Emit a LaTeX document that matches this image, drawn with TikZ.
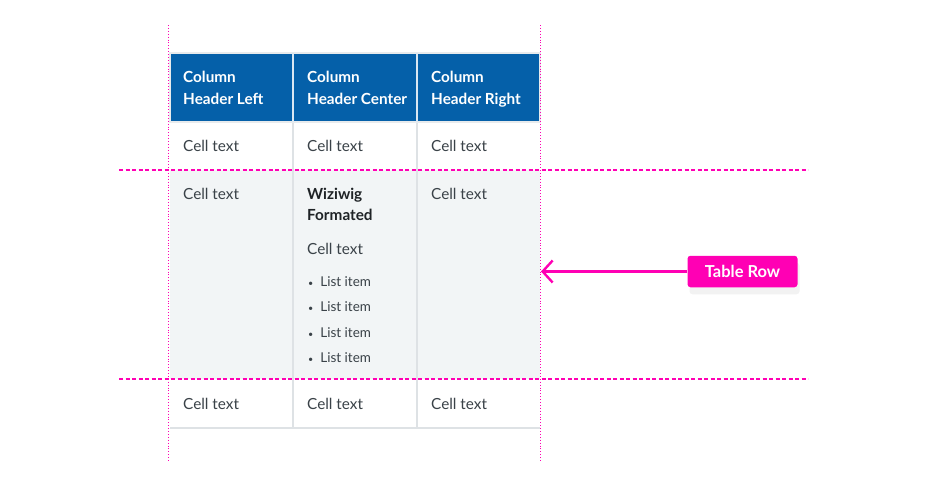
\documentclass[tikz,border=0pt]{standalone}
\usepackage{fontspec}
\setmainfont{Lato}
\usetikzlibrary{positioning,arrows.meta,shadows}
\definecolor{headblue}{HTML}{0560A9}
\definecolor{guidepink}{HTML}{FF00B4}
\definecolor{rowgrey}{HTML}{F2F5F6}
\definecolor{gridgrey}{HTML}{DEE2E5}
\definecolor{celltext}{HTML}{3A4248}
\definecolor{darktext}{HTML}{1F2326}
\tikzset{
  cell/.style={anchor=base west,inner sep=0pt,text=celltext,font=\fontsize{15.3}{18}\selectfont},
  head/.style={anchor=base west,inner sep=0pt,text=white,font=\bfseries\fontsize{15.3}{21.5}\selectfont,align=left},
  wysi/.style={anchor=base west,inner sep=0pt,text=darktext,font=\bfseries\fontsize{15.3}{21}\selectfont,align=left},
  item/.style={anchor=base west,inner sep=0pt,text=celltext,font=\fontsize{13.5}{16}\selectfont},
  guide/.style={guidepink,line width=0.9pt,dotted},
  rowline/.style={guidepink,line width=1.8pt,dash pattern=on 4pt off 2.5pt},
  grid/.style={gridgrey,line width=1.3pt},
  tag/.style={fill=guidepink,text=white,rounded corners=3pt,minimum width=110pt,minimum height=31.5pt,
    inner sep=0pt,font=\bfseries\fontsize{16.5}{18}\selectfont,
    drop shadow={opacity=0.10,shadow xshift=2pt,shadow yshift=-7pt}},
  pointer/.style={guidepink,line width=2.4pt,-{Straight Barb[length=10pt,width=22pt,line width=2.4pt]}}
}
\newcommand{\dotitem}{{\fontsize{9}{9}\selectfont\textbullet}\hspace{7pt}}
\begin{document}
\begin{tikzpicture}[x=1pt,y=-1pt]
  \useasboundingbox[fill=white] (0,0) rectangle (927,485);
  % Flaechen
  \fill[headblue] (170,53) rectangle (540,122);
  \fill[rowgrey] (170,170) rectangle (540,379);
  % Gitter
  \draw[grid] (170,122) -- (540,122);
  \draw[grid] (170,428) -- (540,428);
  \foreach \x in {293,417}
    \draw[grid] (\x,122) -- (\x,428);
  \draw[gridgrey!70,line width=1.3pt] (170,53) rectangle (540,122);
  \foreach \x in {293,417}
    \draw[white!85!headblue,line width=1.3pt] (\x,53) -- (\x,122);
  % Kopfzeile
  \node[head] (hl) at (183,104) {Column\\Header Left};
  \node[head] (hc) at (307,104) {Column\\Header Center};
  \node[head] (hr) at (431,104) {Column\\Header Right};
  % Zeilen
  \foreach \x/\c in {183/l,307/c,431/r}{
    \node[cell] (a\c) at (\x,151.5) {Cell text};
    \node[cell] (c\c) at (\x,409.3) {Cell text};
  }
  \node[cell] (bl) at (183,199.3) {Cell text};
  \node[cell] (br) at (431,199.3) {Cell text};
  \node[wysi] (wz) at (307,220) {Wiziwig\\Formated};
  \node[cell] (bc) at (307,254) {Cell text};
  \foreach \y [count=\i] in {286.7,311.9,337.1,362.3}
    \node[item] (li\i) at (308,\y) {\dotitem List item};
  % Hilfslinien
  \foreach \x in {168.5,540.5}
    \draw[guide] (\x,25) -- (\x,462);
  \foreach \y in {170,379}
    \draw[rowline] (119,\y) -- (808,\y);
  % Markierung
  \node[tag] (row) at (742.5,271.5) {Table Row};
  \coordinate (tip) at (541,271.5);
  \draw[pointer] (row.west) -- (tip);
\end{tikzpicture}
\end{document}
